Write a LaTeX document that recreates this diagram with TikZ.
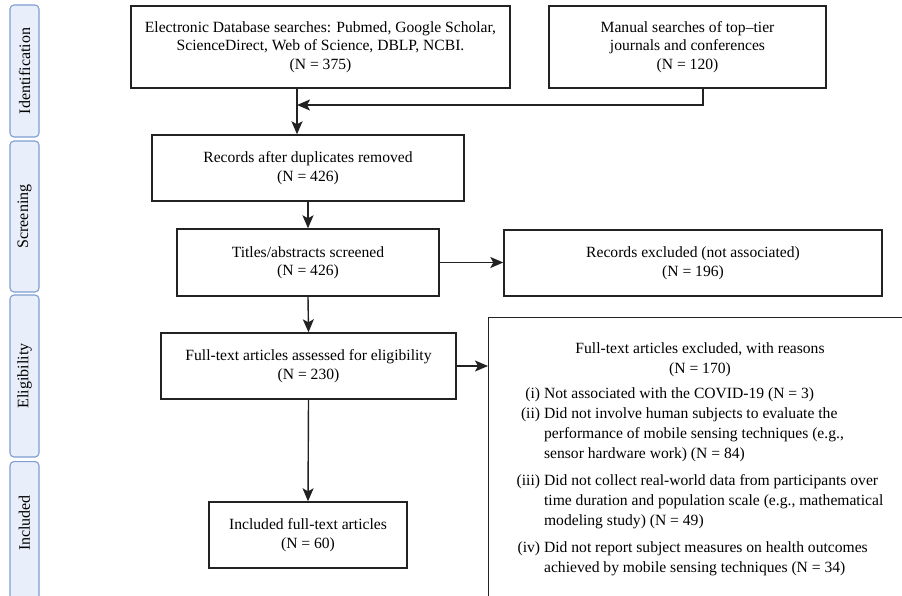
\documentclass[tikz,border=0pt]{standalone}
\usepackage{fontspec}
\setmainfont{Liberation Serif}
\usepackage{graphicx}
\usetikzlibrary{arrows.meta}
\definecolor{sidefill}{HTML}{E9EFFA}
\definecolor{sidedraw}{HTML}{7F9DD1}
\definecolor{boxline}{HTML}{222222}
\tikzset{
  box/.style={draw=boxline, line width=1.4pt, fill=white, inner sep=0pt,
    font=\fontsize{15.6}{18.5}\selectfont, align=center},
  sidebar/.style={draw=sidedraw, fill=sidefill, line width=1.1pt, rounded corners=4pt,
    inner sep=0pt, minimum width=29pt, font=\fontsize{16}{18}\selectfont},
  arr/.style={line width=1.4pt, draw=boxline, -{Stealth[length=13pt,width=11pt,inset=3pt]}},
}
\begin{document}
\begin{tikzpicture}[x=1pt,y=-1pt]
\useasboundingbox (0,0) rectangle (902,595);
\clip (0,0) rectangle (902,595);
% side bars
\node[sidebar, minimum height=132pt] (s1) at (24.5,71) {\rotatebox{90}{Identification}};
\node[sidebar, minimum height=151pt] (s2) at (24.5,216.5) {\rotatebox{90}{Screening}};
\node[sidebar, minimum height=162pt] (s3) at (24.5,376) {\rotatebox{90}{Eligibility}};
\node[sidebar, minimum height=160pt, anchor=north] (s4) at (24.5,461) {};
\node[font=\fontsize{16}{18}\selectfont] (s4t) at (24.5,523) {\rotatebox{90}{Included}};
% boxes
\node[box, minimum width=379pt, minimum height=82pt] (b1) at (320.5,47)
  {Electronic Database searches: Pubmed, Google Scholar,\\ScienceDirect, Web of Science, DBLP, NCBI.\\(N = 375)};
\node[box, minimum width=277pt, minimum height=82pt] (b2) at (687.5,47)
  {Manual searches of top--tier\\journals and conferences\\(N = 120)};
\node[box, minimum width=312pt, minimum height=66pt] (b3) at (308,168)
  {Records after duplicates removed\\(N = 426)};
\node[box, minimum width=262pt, minimum height=67pt] (b4) at (308,262.5)
  {Titles/abstracts screened\\(N = 426)};
\node[box, minimum width=378pt, minimum height=66pt] (b5) at (693,263)
  {Records excluded (not associated)\\(N = 196)};
\node[box, minimum width=295pt, minimum height=66pt] (b6) at (308.5,366)
  {Full-text articles assessed for eligibility\\(N = 230)};
\node[box, minimum width=198pt, minimum height=66pt] (b8) at (308,535)
  {Included full-text articles\\(N = 60)};
\node[box, anchor=north west, minimum width=426pt, minimum height=300pt] (b7) at (488,317) {};
\node[inner sep=0pt, anchor=north, font=\fontsize{15.6}{20}\selectfont] (b7t) at (700,339)
  {\begin{tabular}{@{}r@{\hspace{4pt}}l@{}}
   \multicolumn{2}{c}{Full-text articles excluded, with reasons}\\
   \multicolumn{2}{c}{(N = 170)}\\[5pt]
   (i) & Not associated with the COVID-19 (N = 3)\\
   (ii) & Did not involve human subjects to evaluate the\\
        & performance of mobile sensing techniques (e.g.,\\
        & sensor hardware work) (N = 84)\\[7pt]
   (iii) & Did not collect real-world data from participants over\\
         & time duration and population scale (e.g., mathematical\\
         & modeling study) (N = 49)\\[7pt]
   (iv) & Did not report subject measures on health outcomes\\
        & achieved by mobile sensing techniques (N = 34)
   \end{tabular}};
% connectors
\coordinate (j) at (297,105);
\coordinate (k) at (703,105);
\draw[arr] (b1.south -| j) -- (b3.north -| j);
\draw[arr] (b2.south -| k) -- (k) -- (j);
\draw[arr] (b3.south) -- (b4.north);
\draw[arr] (b4.east) -- (b4.east -| b5.west);
\draw[arr] (b4.south) -- (b6.north);
\draw[arr] (b6.east) -- (b6.east -| b7.west);
\draw[arr] (b6.south) -- (b8.north);
\end{tikzpicture}
\end{document}
